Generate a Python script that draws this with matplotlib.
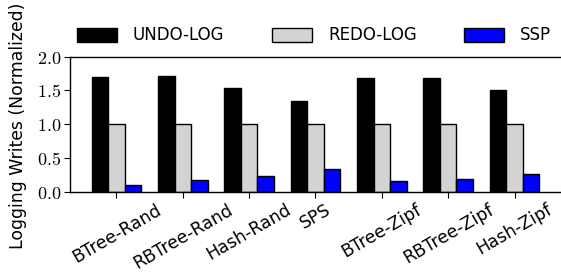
import matplotlib
matplotlib.use("Agg")
import matplotlib.pyplot as plt
import numpy as np

categories = ["BTree-Rand", "RBTree-Rand", "Hash-Rand", "SPS",
              "BTree-Zipf", "RBTree-Zipf", "Hash-Zipf"]
series_names = ["UNDO-LOG", "REDO-LOG", "SSP"]
undo_log = [1.70, 1.72, 1.53, 1.34, 1.68, 1.69, 1.51]
redo_log = [1.00, 1.00, 1.00, 1.00, 1.00, 1.00, 1.00]
ssp = [0.10, 0.17, 0.24, 0.33, 0.16, 0.19, 0.26]
yticks = [0.0, 0.5, 1.0, 1.5, 2.0]

plt.rcParams["mathtext.fontset"] = "cm"
plt.rcParams["font.family"] = ["DejaVu Sans"]

W, H = 561, 272
fig = plt.figure(figsize=(W / 100, H / 100), dpi=100)
left_px, right_px, top_px, bot_px = 70, 561, 56.7, 191.7
ax = fig.add_axes([left_px / W, 1 - bot_px / H, (right_px - left_px) / W, (bot_px - top_px) / H])

x = np.arange(len(categories))
w = 0.25
colors = ["black", "#d3d3d3", "#0000ff"]
for i, (vals, name) in enumerate(zip([undo_log, redo_log, ssp], series_names)):
    ax.bar(x + (i - 1) * w, vals, w, color=colors[i], edgecolor="black",
           linewidth=1.0, label=name)

ax.set_xlim(-0.7, 6.7)
ax.set_ylim(0, 2.0)
ax.set_yticks(yticks)
ax.set_yticklabels([f"${v:.1f}$" for v in yticks], fontsize=13)
ax.set_xticks(x)
ax.set_xticklabels(categories, rotation=30, ha="center", fontsize=12.5)
ax.tick_params(axis="y", length=4, width=0.8, pad=2.5)
ax.tick_params(axis="x", length=4, width=0.8, pad=2.5)
ax.spines["right"].set_visible(False)
for s in ["left", "top", "bottom"]:
    ax.spines[s].set_linewidth(1.0)
ax.set_ylabel("Logging Writes (Normalized)", fontsize=12.4)
ax.yaxis.set_label_coords(-0.0876, 0.49)

handles, labels = ax.get_legend_handles_labels()
fig.legend(handles, labels, loc="center left", bbox_to_anchor=(77 / W, 1 - 35.5 / H),
           ncol=3, frameon=False, fontsize=12, handlelength=2.4, handleheight=0.9,
           handletextpad=0.96, columnspacing=2.85, borderpad=0, borderaxespad=0)

fig.savefig("out.png", dpi=100)
